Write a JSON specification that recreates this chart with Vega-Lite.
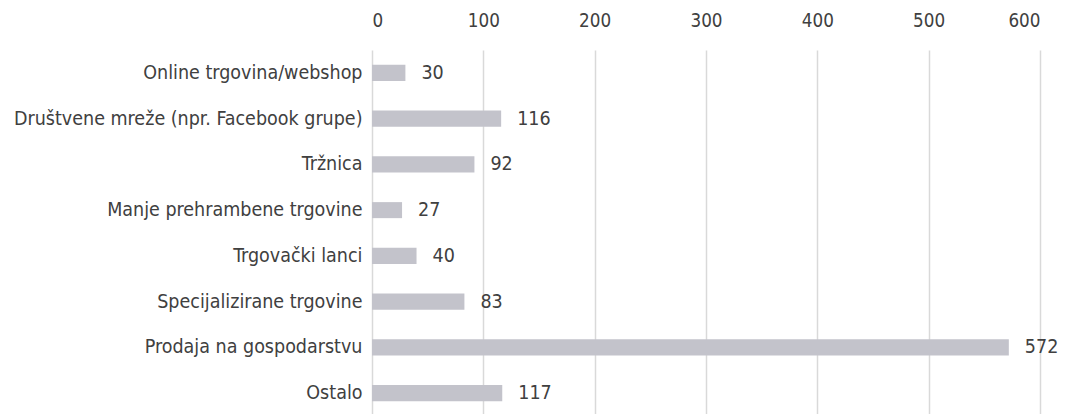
{
  "$schema": "https://vega.github.io/schema/vega-lite/v6.json",
  "autosize": {"type": "none"},
  "padding": {"left": 372, "top": 50, "right": 25, "bottom": 0},
  "width": 668,
  "height": 366,
  "background": "white",
  "config": {
    "font": "DejaVu Sans Condensed",
    "view": {"stroke": null}
  },
  "data": {
    "values": [
      {"kategorija": "Online trgovina/webshop", "broj": 30},
      {"kategorija": "Društvene mreže (npr. Facebook grupe)", "broj": 116},
      {"kategorija": "Tržnica", "broj": 92},
      {"kategorija": "Manje prehrambene trgovine", "broj": 27},
      {"kategorija": "Trgovački lanci", "broj": 40},
      {"kategorija": "Specijalizirane trgovine", "broj": 83},
      {"kategorija": "Prodaja na gospodarstvu", "broj": 572},
      {"kategorija": "Ostalo", "broj": 117}
    ]
  },
  "encoding": {
    "y": {
      "field": "kategorija",
      "type": "nominal",
      "sort": null,
      "scale": {"paddingInner": 0.65, "paddingOuter": 0.325},
      "axis": {
        "title": null,
        "domain": false,
        "ticks": false,
        "labelPadding": 10,
        "labelFontSize": 19.5,
        "labelColor": "#404040",
        "labelLimit": 400
      }
    },
    "x": {
      "field": "broj",
      "type": "quantitative",
      "scale": {"domain": [0, 600], "nice": false},
      "axis": {
        "orient": "top",
        "title": null,
        "domain": false,
        "ticks": false,
        "values": [0, 100, 200, 300, 400, 500, 600],
        "labelPadding": 20,
        "labelFontSize": 18.7,
        "labelColor": "#404040",
        "grid": true,
        "gridColor": "#d9d9d9",
        "gridWidth": 1.5
      }
    }
  },
  "layer": [
    {"mark": {"type": "bar", "color": "#c3c3cb"}},
    {
      "mark": {"type": "text", "align": "left", "dx": 16, "fontSize": 19.5, "color": "#404040"},
      "encoding": {"text": {"field": "broj", "type": "quantitative"}}
    }
  ]
}
